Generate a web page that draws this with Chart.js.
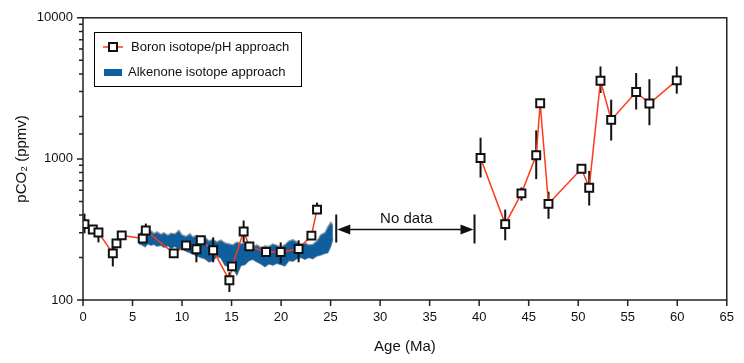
<!DOCTYPE html>
<html>
<head>
<meta charset="utf-8">
<script src="https://cdn.jsdelivr.net/npm/chart.js@4.4.0/dist/chart.umd.min.js"></script>
<style>
  html, body { margin: 0; padding: 0; background: #fff; }
  #wrap { width: 744px; height: 363px; position: relative; }
</style>
</head>
<body>
<div id="wrap"><canvas id="myChart"></canvas></div>
<script>
// boron isotope / pH estimates (age in Ma, pCO2 in ppmv)
var boronAge = [0.15, 0.99, 1.56, 3.01, 3.38, 3.91, 6.03, 6.34, 9.16, 10.41, 11.45, 11.89, 13.14, 14.78, 15.05, 16.22, 16.8, 18.48, 19.96, 21.77, 23.06, 23.63,
  40.14, 42.63, 44.27, 45.76, 46.16, 47.0, 50.33, 51.11, 52.25, 53.33, 55.85, 57.19, 59.95];
var boronCO2 = [345, 316, 301, 214, 252, 287, 273, 311, 214, 244, 229, 265, 225, 138, 173, 306, 240, 219, 219, 230, 286, 437,
  1016, 345, 570, 1062, 2480, 480, 851, 625, 3580, 1890, 2980, 2470, 3600];
var boronErrLow = [297, null, 256, 173, 240, null, null, 287, null, null, 185, null, 185, 114, 160, 256, 225, null, 182, 185, null, 410,
  738, 265, 506, 719, 2300, 376, null, 467, 2930, 1350, 2240, 1733, 2900];
var boronErrHigh = [410, null, 321, 236, 262, null, null, 348, null, null, 252, null, 278, 157, 185, 366, 252, null, 256, 265, null, 490,
  1413, 437, 628, 1592, 2650, 586, null, 822, 4520, 2630, 4060, 3670, 4520];

// alkenone isotope envelope
var bandAge = [5.65, 5.95, 6.26, 6.56, 6.86, 7.16, 7.47, 7.87, 8.17, 8.58, 8.88, 9.28, 9.69, 9.99, 10.39, 10.8, 11.1, 11.5, 11.91, 12.31, 12.71, 13.12, 13.52, 13.92, 14.33, 14.73,
  15.14, 15.54, 15.94, 16.35, 16.75, 17.15, 17.56, 17.96, 18.36, 18.77, 19.17, 19.57, 19.98, 20.38, 20.79, 21.19, 21.59, 22.0, 22.4, 22.8, 23.21, 23.61, 24.01, 24.42, 24.72, 25.02, 25.23];
var bandHigh = [290, 305, 318, 300, 310, 296, 304, 292, 300, 288, 298, 294, 312, 290, 282, 295, 280, 288, 272, 280, 262, 270, 258, 266, 254, 250,
  246, 258, 250, 256, 244, 238, 246, 236, 242, 240, 250, 244, 238, 246, 262, 268, 258, 250, 254, 246, 248, 262, 290, 300, 330, 355, 340];
var bandLow = [250, 246, 238, 250, 244, 248, 240, 244, 236, 242, 232, 240, 226, 230, 222, 216, 212, 205, 200, 196, 186, 190, 204, 198, 176, 172,
  168, 150, 175, 178, 190, 194, 186, 180, 172, 180, 176, 182, 178, 174, 190, 188, 196, 200, 194, 200, 196, 205, 208, 214, 216, 240, 270];

var xTicks = [0, 5, 10, 15, 20, 25, 30, 35, 40, 45, 50, 55, 60, 65];
var noDataFrom = 25.57, noDataTo = 39.53, noDataLevel = 316;

var FONT = '"Liberation Sans", Arial, Helvetica, sans-serif';
var RED = "#ff3a1a";
var BLUE = "#0f5f9e";
var GREY = "#8f959b";

function pts(xs, ys) {
  return xs.map(function (x, i) { return { x: x, y: ys[i] }; });
}

var framePlugin = {
  id: "frame",
  beforeDatasetDraw: function (chart, args) {
    if (args.index !== 0) return;
    var ctx = chart.ctx, xs = chart.scales.x, ys = chart.scales.y;
    ctx.save();
    ctx.strokeStyle = "#111";
    ctx.lineWidth = 2;
    boronAge.forEach(function (a, i) {
      if (boronErrLow[i] == null) return;
      var px = xs.getPixelForValue(a);
      ctx.beginPath();
      ctx.moveTo(px, ys.getPixelForValue(boronErrLow[i]));
      ctx.lineTo(px, ys.getPixelForValue(boronErrHigh[i]));
      ctx.stroke();
    });
    ctx.restore();
  },
  afterDraw: function (chart) {
    var ctx = chart.ctx, a = chart.chartArea, xs = chart.scales.x, ys = chart.scales.y;
    ctx.save();
    ctx.strokeStyle = "#222";
    ctx.lineWidth = 1.5;
    ctx.strokeRect(a.left, a.top, a.right - a.left, a.bottom - a.top);
    // tick marks
    ctx.beginPath();
    xTicks.forEach(function (t) {
      var px = xs.getPixelForValue(t);
      ctx.moveTo(px, a.bottom);
      ctx.lineTo(px, a.bottom + 6);
    });
    ys.ticks.forEach(function (t) {
      var py = ys.getPixelForValue(t.value);
      var major = Math.abs(Math.log10(t.value) - Math.round(Math.log10(t.value))) < 1e-6;
      ctx.moveTo(a.left, py);
      ctx.lineTo(a.left - (major ? 6 : 4), py);
    });
    ctx.stroke();

    // "No data" gap
    var x1 = xs.getPixelForValue(noDataFrom), x2 = xs.getPixelForValue(noDataTo);
    var y0 = ys.getPixelForValue(noDataLevel);
    ctx.strokeStyle = "#111";
    ctx.fillStyle = "#111";
    ctx.lineWidth = 2;
    ctx.beginPath();
    ctx.moveTo(x1, y0 - 15); ctx.lineTo(x1, y0 + 13);
    ctx.moveTo(x2, y0 - 15); ctx.lineTo(x2, y0 + 14);
    ctx.stroke();
    ctx.lineWidth = 1.5;
    ctx.beginPath();
    ctx.moveTo(x1 + 8, y0); ctx.lineTo(x2 - 8, y0);
    ctx.stroke();
    ctx.beginPath();
    ctx.moveTo(x1 + 1, y0); ctx.lineTo(x1 + 14, y0 - 5); ctx.lineTo(x1 + 14, y0 + 5); ctx.closePath();
    ctx.moveTo(x2 - 1, y0); ctx.lineTo(x2 - 14, y0 - 5); ctx.lineTo(x2 - 14, y0 + 5); ctx.closePath();
    ctx.fill();
    ctx.font = "15px " + FONT;
    ctx.textAlign = "center";
    ctx.textBaseline = "middle";
    ctx.fillText("No data", (x1 + x2) / 2 + 1, y0 - 11);

    // legend
    ctx.lineWidth = 1;
    ctx.strokeStyle = "#000";
    ctx.strokeRect(94.5, 32.5, 207, 54);
    ctx.strokeStyle = RED;
    ctx.lineWidth = 1.5;
    ctx.beginPath(); ctx.moveTo(103, 47); ctx.lineTo(123, 47); ctx.stroke();
    ctx.fillStyle = "#fff";
    ctx.strokeStyle = "#111";
    ctx.lineWidth = 2;
    ctx.fillRect(109, 43, 8, 8);
    ctx.strokeRect(109, 43, 8, 8);
    ctx.fillStyle = BLUE;
    ctx.fillRect(104, 69, 18, 7);
    ctx.fillStyle = "#111";
    ctx.font = "13px " + FONT;
    ctx.textAlign = "left";
    ctx.fillText("Boron isotope/pH approach", 131, 47);
    ctx.fillText("Alkenone isotope approach", 128, 72);
    ctx.restore();
  }
};

var ctx = document.getElementById("myChart").getContext("2d");
var myChart = new Chart(ctx, {
  type: "scatter",
  data: {
    datasets: [
      {
        label: "Boron isotope/pH approach",
        data: pts(boronAge, boronCO2),
        showLine: true,
        borderColor: RED,
        borderWidth: 1.5,
        pointStyle: "rect",
        pointRadius: 5.6,
        pointBorderWidth: 2,
        pointBorderColor: "#111",
        pointBackgroundColor: "#fff",
        // no line across the data gap
        segment: {
          borderColor: function (c) {
            return c.p0.parsed.x < noDataFrom && c.p1.parsed.x > noDataTo ? "rgba(0,0,0,0)" : RED;
          },
        },
      },
      {
        label: "Alkenone isotope approach",
        data: pts(bandAge, bandHigh),
        showLine: true,
        borderColor: GREY,
        borderWidth: 1.3,
        backgroundColor: BLUE,
        pointRadius: 0,
        fill: "+1",
      },
      {
        label: "alk low",
        data: pts(bandAge, bandLow),
        showLine: true,
        borderColor: GREY,
        borderWidth: 1.3,
        pointRadius: 0,
        fill: false,
      },
    ],
  },
  plugins: [framePlugin],
  options: {
    responsive: true,
    maintainAspectRatio: false,
    animation: false,
    layout: { padding: { top: 16, right: 17, left: 0, bottom: 0 } },
    plugins: { legend: { display: false }, tooltip: { enabled: false } },
    scales: {
      x: {
        type: "linear",
        min: 0,
        max: 65,
        afterBuildTicks: function (scale) {
          scale.ticks = xTicks.map(function (v) { return { value: v }; });
        },
        afterFit: function (scale) { scale.height = 63; },
        grid: { display: false, drawTicks: false },
        border: { display: false },
        ticks: { padding: 10, color: "#111", font: { family: FONT, size: 13 }, maxRotation: 0 },
        title: { display: true, text: "Age (Ma)", color: "#111", font: { family: FONT, size: 15 }, padding: { top: 0, bottom: 7 } },
      },
      y: {
        type: "logarithmic",
        min: 100,
        max: 10000,
        afterFit: function (scale) { scale.width = 83; },
        grid: { display: false, drawTicks: false },
        border: { display: false },
        ticks: {
          autoSkip: false,
          padding: 10,
          color: "#111",
          font: { family: FONT, size: 13 },
          callback: function (v) {
            var l = Math.log10(v);
            return Math.abs(l - Math.round(l)) < 1e-6 ? String(v) : "";
          },
        },
        title: { display: true, text: "pCO\u2082 (ppmv)", color: "#111", font: { family: FONT, size: 15 }, padding: { top: 13, bottom: 0 } },
      },
    },
  },
});
</script>
</body>
</html>
